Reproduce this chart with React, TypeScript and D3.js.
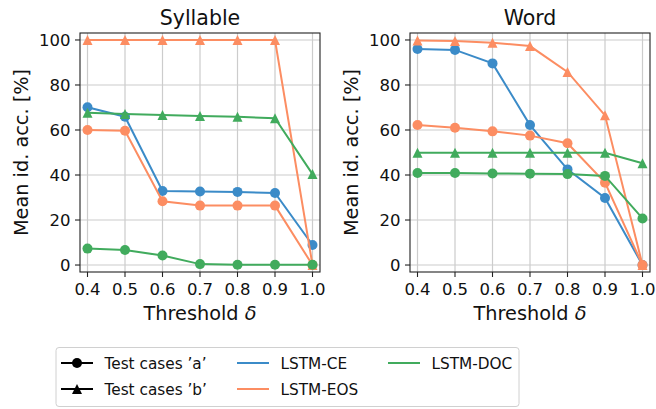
import React from 'react';
import * as d3 from 'd3';

const thresholds = [0.4, 0.5, 0.6, 0.7, 0.8, 0.9, 1.0];
const yTicks = [0, 20, 40, 60, 80, 100];

// Syllable panel
const syllableCEa = [70.1, 65.9, 32.9, 32.7, 32.5, 32.0, 8.9];
const syllableEOSa = [60.0, 59.7, 28.3, 26.4, 26.4, 26.4, 0];
const syllableEOSb = [100, 100, 100, 100, 100, 100, 0];
const syllableDOCa = [7.3, 6.7, 4.2, 0.4, 0.1, 0.1, 0.1];
const syllableDOCb = [67.7, 67.1, 66.7, 66.2, 65.9, 65.2, 40.4];

// Word panel
const wordCEa = [96.0, 95.6, 89.6, 62.2, 42.5, 29.8, 0];
const wordEOSa = [62.2, 61.0, 59.4, 57.5, 54.1, 36.6, 0];
const wordEOSb = [99.8, 99.6, 98.8, 97.3, 85.8, 66.5, 0];
const wordDOCa = [40.9, 40.9, 40.7, 40.6, 40.4, 39.6, 20.7];
const wordDOCb = [49.9, 49.9, 49.9, 49.9, 49.9, 49.9, 45.2];

const models = ['LSTM-CE', 'LSTM-EOS', 'LSTM-DOC'];
const colors = ['#3b8bc8', '#fc8d62', '#41ab5d'];

type Series = { values: number[]; color: string; marker: 'a' | 'b' };

const FONT = 'DejaVu Sans, sans-serif';

const trianglePath = (r: number) => `M0,${-r}L${-r},${r}L${r},${r}Z`;

const Marker = ({ kind, color, cx, cy }: { kind: 'a' | 'b'; color: string; cx: number; cy: number }) =>
  kind === 'a' ? (
    <circle cx={cx} cy={cy} r={5} fill={color} />
  ) : (
    <path d={trianglePath(5)} transform={`translate(${cx},${cy})`} fill={color} />
  );

const Panel = ({ left, title, series }: { left: number; title: string; series: Series[] }) => {
  const top = 33;
  const bottom = 272;
  const width = 240;
  const x = d3.scaleLinear().domain([0.38, 1.02]).range([left, left + width]);
  const y = d3.scaleLinear().domain([-3.1, 103.1]).range([bottom, top]);
  const line = d3
    .line<number>()
    .x((_, i) => x(thresholds[i]))
    .y((d) => y(d));

  return (
    <g>
      {/* grid */}
      {thresholds.map((t) => (
        <line key={'gx' + t} x1={x(t)} x2={x(t)} y1={top} y2={bottom} stroke="#cccccc" strokeWidth={1.2} />
      ))}
      {yTicks.map((t) => (
        <line key={'gy' + t} x1={left} x2={left + width} y1={y(t)} y2={y(t)} stroke="#cccccc" strokeWidth={1.2} />
      ))}

      {/* series */}
      {series.map((s, k) => (
        <g key={k}>
          <path d={line(s.values) || ''} fill="none" stroke={s.color} strokeWidth={2} />
          {s.values.map((v, i) => (
            <Marker key={i} kind={s.marker} color={s.color} cx={x(thresholds[i])} cy={y(v)} />
          ))}
        </g>
      ))}

      {/* frame */}
      <rect x={left} y={top} width={width} height={bottom - top} fill="none" stroke="#222" strokeWidth={1.1} />

      {/* x ticks */}
      {thresholds.map((t) => (
        <g key={'tx' + t}>
          <line x1={x(t)} x2={x(t)} y1={bottom} y2={bottom + 5} stroke="#222" strokeWidth={1.1} />
          <text x={x(t)} y={295} textAnchor="middle" fontSize={16.5} fontFamily={FONT} fill="#111">
            {d3.format('.1f')(t)}
          </text>
        </g>
      ))}

      {/* y ticks */}
      {yTicks.map((t) => (
        <g key={'ty' + t}>
          <line x1={left - 5} x2={left} y1={y(t)} y2={y(t)} stroke="#222" strokeWidth={1.1} />
          <text x={left - 9.5} y={y(t) + 6} textAnchor="end" fontSize={16.5} fontFamily={FONT} fill="#111">
            {t}
          </text>
        </g>
      ))}

      <text x={left + width / 2} y={25} textAnchor="middle" fontSize={20.5} fontFamily={FONT} fill="#111">
        {title}
      </text>
      <text x={left + width / 2} y={320} textAnchor="middle" fontSize={19.3} fontFamily={FONT} fill="#111">
        Threshold <tspan fontStyle="italic">δ</tspan>
      </text>
      <text
        transform={`translate(${left - 52},${(top + bottom) / 2}) rotate(-90)`}
        textAnchor="middle"
        fontSize={19.3}
        fontFamily={FONT}
        fill="#111"
      >
        Mean id. acc. [%]
      </text>
    </g>
  );
};

export default function App() {
  const syllable: Series[] = [
    { values: syllableCEa, color: colors[0], marker: 'a' },
    { values: syllableEOSa, color: colors[1], marker: 'a' },
    { values: syllableEOSb, color: colors[1], marker: 'b' },
    { values: syllableDOCa, color: colors[2], marker: 'a' },
    { values: syllableDOCb, color: colors[2], marker: 'b' },
  ];
  const word: Series[] = [
    { values: wordCEa, color: colors[0], marker: 'a' },
    { values: wordEOSa, color: colors[1], marker: 'a' },
    { values: wordEOSb, color: colors[1], marker: 'b' },
    { values: wordDOCa, color: colors[2], marker: 'a' },
    { values: wordDOCb, color: colors[2], marker: 'b' },
  ];

  const legendRows = [363, 389];
  const legendItems = [
    { col: 0, row: 0, label: 'Test cases \u2019a\u2019', color: '#000', marker: 'a' as const },
    { col: 0, row: 1, label: 'Test cases \u2019b\u2019', color: '#000', marker: 'b' as const },
    { col: 1, row: 0, label: models[0], color: colors[0], marker: null },
    { col: 1, row: 1, label: models[1], color: colors[1], marker: null },
    { col: 2, row: 0, label: models[2], color: colors[2], marker: null },
  ];
  const colX = [61, 237, 388];

  return (
    <>
      <style>{`body{margin:0}`}</style>
      <svg width={656} height={409} style={{ display: 'block', background: '#fff' }}>
        <Panel left={80} title="Syllable" series={syllable} />
        <Panel left={410} title="Word" series={word} />

        {/* legend */}
        <rect x={56} y={347.5} width={463} height={59} rx={3} fill="#fff" stroke="#d0d0d0" strokeWidth={1} />
        {legendItems.map((it, i) => {
          const x0 = colX[it.col];
          const yy = legendRows[it.row];
          return (
            <g key={i}>
              <line x1={x0} x2={x0 + 32} y1={yy} y2={yy} stroke={it.color} strokeWidth={2} />
              {it.marker && <Marker kind={it.marker} color={it.color} cx={x0 + 16} cy={yy} />}
              <text x={x0 + 43.5} y={yy + 5.5} fontSize={15.3} fontFamily={FONT} fill="#111">
                {it.label}
              </text>
            </g>
          );
        })}
      </svg>
    </>
  );
}
